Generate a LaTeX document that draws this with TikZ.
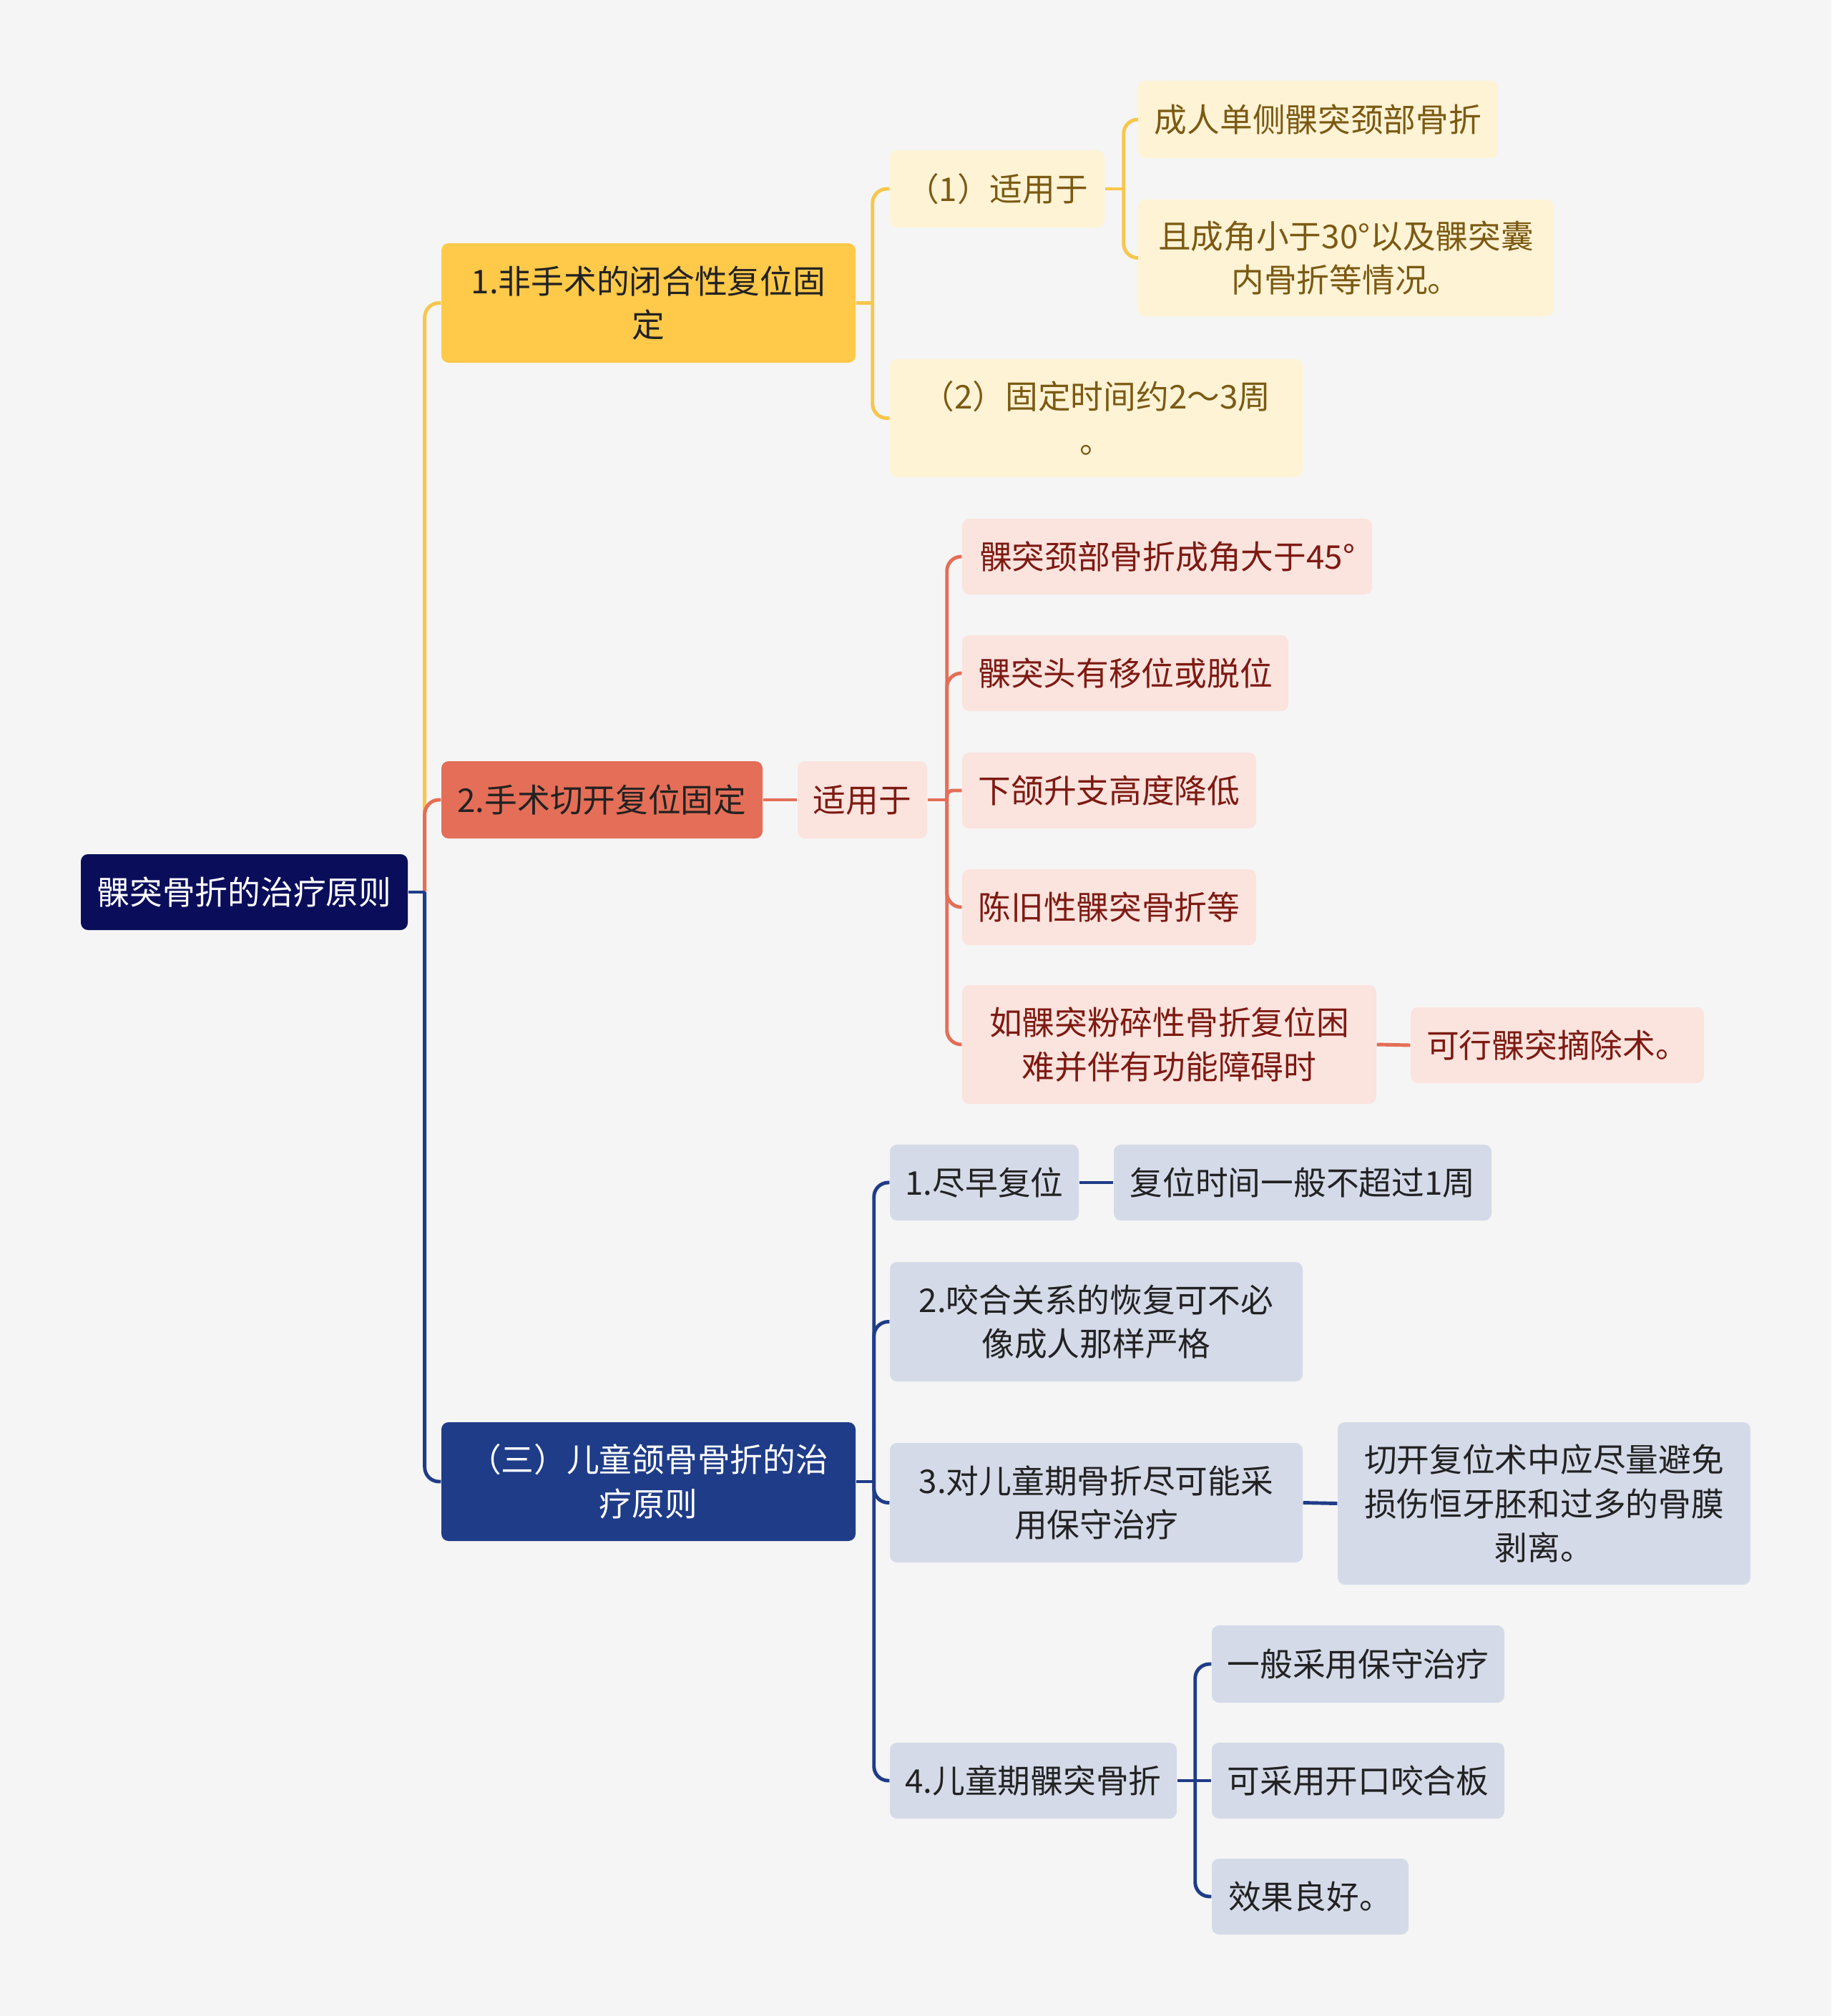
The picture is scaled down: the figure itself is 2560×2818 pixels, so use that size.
\documentclass[tikz,border=0pt]{standalone}
\usepackage{fontspec}
\setmainfont{Noto Sans CJK SC}
\definecolor{bg}{HTML}{F5F5F5}
\definecolor{rootc}{HTML}{0A0E5A}
\definecolor{yelc}{HTML}{FFC94A}
\definecolor{yell}{HTML}{F9C64C}
\definecolor{creamc}{HTML}{FFF3D6}
\definecolor{brownt}{HTML}{7B5A12}
\definecolor{salc}{HTML}{E46E57}
\definecolor{pinkc}{HTML}{FBE3DE}
\definecolor{redt}{HTML}{7D1A12}
\definecolor{bluec}{HTML}{1F3C88}
\definecolor{grayb}{HTML}{D5DAE9}
\definecolor{darkt}{HTML}{222222}
\tikzset{
  box/.style={inner sep=0pt, rounded corners=0.1cm, align=center,
    font=\fontsize{13}{17.5}\selectfont},
  rootbox/.style={box, fill=rootc, text=white},
  yelbox/.style={box, fill=yelc, text=darkt},
  creambox/.style={box, fill=creamc, text=brownt},
  salbox/.style={box, fill=salc, text=darkt},
  pinkbox/.style={box, fill=pinkc, text=redt},
  bluebox/.style={box, fill=bluec, text=white},
  graybox/.style={box, fill=grayb, text=darkt},
  conn/.style={line width=1.4pt, rounded corners=0.2cm},
  cy/.style={conn, draw=yell},
  cs/.style={conn, draw=salc},
  cb/.style={conn, draw=bluec},
}
\newcommand{\bx}[6]{\node[#1, minimum width=#4*0.01cm, minimum height=#5*0.01cm] (#2) at (#3) {#6};}
% stub from parent east
\newcommand{\stub}[3]{\draw[#1] (#2.east) -- ++(#3,0);}
% branch from junction to child
\newcommand{\brn}[4]{\draw[#1] (#2.east) ++(#3,0) |- (#4.west);}
\begin{document}
\begin{tikzpicture}[x=0.01cm, y=-0.01cm]
\fill[bg] (0,0) rectangle (2560,2818);
\useasboundingbox (0,0) rectangle (2560,2818);

% nodes
\bx{rootbox}{root}{341.5,1247}{457}{106}{髁突骨折的治疗原则}
\bx{yelbox}{n1}{906.5,423.5}{579}{167}{1.非手术的闭合性复位固\\定}
\bx{creambox}{n1a}{1394,264}{300}{108}{（1）适用于}
\bx{creambox}{n1a1}{1842.5,167}{503}{108}{成人单侧髁突颈部骨折}
\bx{creambox}{n1a2}{1881.5,360.5}{581}{163}{且成角小于30°以及髁突囊\\内骨折等情况。}
\bx{creambox}{n1b}{1532.5,584.5}{577}{165}{（2）固定时间约2～3周\\。}

\bx{salbox}{n2}{841.5,1118}{449}{108}{2.手术切开复位固定}
\bx{pinkbox}{n2a}{1205.5,1118}{181}{108}{适用于}
\bx{pinkbox}{n2a1}{1631.5,778}{573}{106}{髁突颈部骨折成角大于45°}
\bx{pinkbox}{n2a2}{1573,941}{456}{106}{髁突头有移位或脱位}
\bx{pinkbox}{n2a3}{1550.5,1105}{411}{106}{下颌升支高度降低}
\bx{pinkbox}{n2a4}{1550.5,1268}{411}{106}{陈旧性髁突骨折等}
\bx{pinkbox}{n2a5}{1634.5,1460}{579}{166}{如髁突粉碎性骨折复位困\\难并伴有功能障碍时}
\bx{pinkbox}{n2a5a}{2177,1461}{410}{106}{可行髁突摘除术。}

\bx{bluebox}{n3}{906.5,2071}{579}{166}{（三）儿童颌骨骨折的治\\疗原则}
\bx{graybox}{n31}{1376,1653}{264}{106}{1.尽早复位}
\bx{graybox}{n31a}{1821,1653}{528}{106}{复位时间一般不超过1周}
\bx{graybox}{n32}{1532.5,1847.5}{577}{167}{2.咬合关系的恢复可不必\\像成人那样严格}
\bx{graybox}{n33}{1532.5,2100.5}{577}{167}{3.对儿童期骨折尽可能采\\用保守治疗}
\bx{graybox}{n33a}{2158.5,2101.5}{577}{227}{切开复位术中应尽量避免\\损伤恒牙胚和过多的骨膜\\剥离。}
\bx{graybox}{n34}{1444.5,2489}{401}{106}{4.儿童期髁突骨折}
\bx{graybox}{n341}{1898.5,2326}{409}{108}{一般采用保守治疗}
\bx{graybox}{n342}{1898.5,2489}{409}{106}{可采用开口咬合板}
\bx{graybox}{n343}{1831.5,2651}{275}{106}{效果良好。}

% connectors: root
\brn{cy}{root}{23}{n1}
\brn{cs}{root}{23}{n2}
\brn{cb}{root}{23}{n3}
\stub{cb}{root}{23}

% branch 1
\brn{cy}{n1}{23}{n1a}
\brn{cy}{n1}{23}{n1b}
\stub{cy}{n1}{23}
\brn{cy}{n1a}{26}{n1a1}
\brn{cy}{n1a}{26}{n1a2}
\stub{cy}{n1a}{26}

% branch 2
\draw[cs] (n2.east) -- (n2a.west);
\brn{cs}{n2a}{27}{n2a1}
\brn{cs}{n2a}{27}{n2a2}
\draw[cs, rounded corners=0.08cm] (n2a.east) ++(27,0) |- (n2a3.west);
\brn{cs}{n2a}{27}{n2a4}
\brn{cs}{n2a}{27}{n2a5}
\stub{cs}{n2a}{27}
\draw[cs] (n2a5.east) -- (n2a5a.west);

% branch 3
\brn{cb}{n3}{25}{n31}
\brn{cb}{n3}{25}{n32}
\brn{cb}{n3}{25}{n33}
\brn{cb}{n3}{25}{n34}
\stub{cb}{n3}{25}
\draw[cb] (n31.east) -- (n31a.west);
\draw[cb] (n33.east) -- (n33a.west);
\brn{cb}{n34}{25}{n341}
\draw[cb] (n34.east) -- (n342.west);
\brn{cb}{n34}{25}{n343}
\end{tikzpicture}
\end{document}
